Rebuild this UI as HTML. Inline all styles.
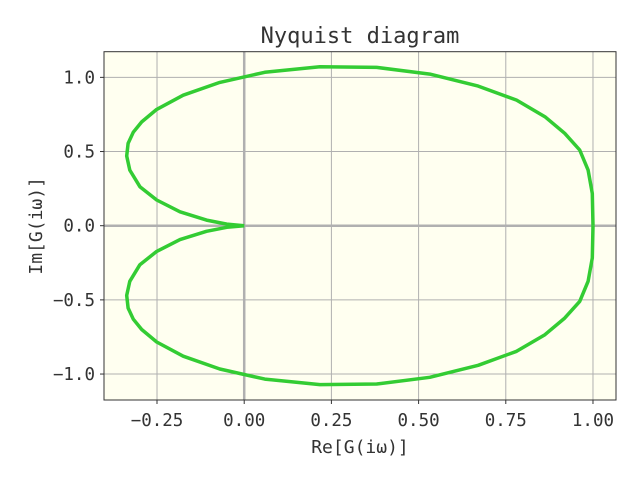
<!DOCTYPE html>
<html><head><meta charset="utf-8"><style>
body{margin:0;background:#fff;}
svg text{font-family:"DejaVu Sans Mono","Liberation Mono",monospace;fill:#333;}
</style></head><body>
<svg width="640" height="480" xmlns="http://www.w3.org/2000/svg">
<rect x="0" y="0" width="640" height="480" fill="#fff"/>
<g id="plot"></g>
</svg>
<script>
const reUpper=[0,-0.05,-0.108,-0.184,-0.251,-0.299,-0.328,-0.337,-0.333,-0.318,-0.294,-0.251,-0.175,-0.07,0.059,0.217,0.38,0.532,0.671,0.781,0.862,0.919,0.962,0.986,0.998,1.0];
const imUpper=[0,0.011,0.038,0.094,0.173,0.263,0.375,0.47,0.555,0.63,0.70,0.784,0.88,0.966,1.034,1.071,1.067,1.022,0.941,0.847,0.735,0.623,0.51,0.375,0.218,0];
const xTicks=[-0.25,0,0.25,0.5,0.75,1.0];
const xTickLabels=["−0.25","0.00","0.25","0.50","0.75","1.00"];
const yTicks=[-1,-0.5,0,0.5,1];
const yTickLabels=["−1.0","−0.5","0.0","0.5","1.0"];

const L=104,T=51.7,R=616,B=400;
const xMin=-0.402,xMax=1.066,yMin=-1.175,yMax=1.173;
const sx=v=>L+(v-xMin)/(xMax-xMin)*(R-L);
const sy=v=>B-(v-yMin)/(yMax-yMin)*(B-T);
const NS="http://www.w3.org/2000/svg";
const g=document.getElementById('plot');
function mk(tag,attrs,parent){const e=document.createElementNS(NS,tag);for(const k in attrs)e.setAttribute(k,attrs[k]);(parent||g).appendChild(e);return e;}

const bg=mk('rect',{x:L,y:T,width:R-L,height:B-T,fill:'#fffff0'});



xTicks.forEach((v,i)=>{
  const gl=mk('line',{x1:sx(v),x2:sx(v),y1:T,y2:B,stroke:'#b0b0b0','stroke-width':v===0?2.5:1});
  
  
  const tk=mk('line',{x1:sx(v),x2:sx(v),y1:B,y2:B+4,stroke:'#333','stroke-width':1});
  
  
  const t=mk('text',{x:sx(v),y:B+26,'text-anchor':'middle','font-size':17.5});
  t.textContent=xTickLabels[i];
  
  
});
yTicks.forEach((v,i)=>{
  const gl=mk('line',{x1:L,x2:R,y1:sy(v),y2:sy(v),stroke:'#b0b0b0','stroke-width':v===0?2.5:1});
  
  
  const tk=mk('line',{x1:L-4,x2:L,y1:sy(v),y2:sy(v),stroke:'#333','stroke-width':1});
  
  
  const t=mk('text',{x:L-9,y:sy(v)+6,'text-anchor':'end','font-size':17.5});
  t.textContent=yTickLabels[i];
  
  
});

let pts=[];
for(let i=0;i<reUpper.length;i++)pts.push(sx(reUpper[i]).toFixed(1)+','+sy(imUpper[i]).toFixed(1));
const up=mk('polyline',{points:pts.join(' '),fill:'none',stroke:'#33cc33','stroke-width':3.5,'stroke-linejoin':'round'});


let pts2=[];
for(let i=0;i<reUpper.length;i++)pts2.push(sx(reUpper[i]).toFixed(1)+','+sy(-imUpper[i]).toFixed(1));
const lo=mk('polyline',{points:pts2.join(' '),fill:'none',stroke:'#33cc33','stroke-width':3.5,'stroke-linejoin':'round'});



const fr=mk('rect',{x:L,y:T,width:R-L,height:B-T,fill:'none',stroke:'#333','stroke-width':1});



const ti=mk('text',{x:(L+R)/2,y:43,'text-anchor':'middle','font-size':22});
ti.textContent='Nyquist diagram';


const xl=mk('text',{x:(L+R)/2,y:453,'text-anchor':'middle','font-size':18});
xl.textContent='Re[G(iω)]';


const yl=mk('text',{x:0,y:0,'text-anchor':'middle','font-size':18,transform:`translate(42,${(T+B)/2}) rotate(-90)`});
yl.textContent='Im[G(iω)]';


</script>
</body></html>
